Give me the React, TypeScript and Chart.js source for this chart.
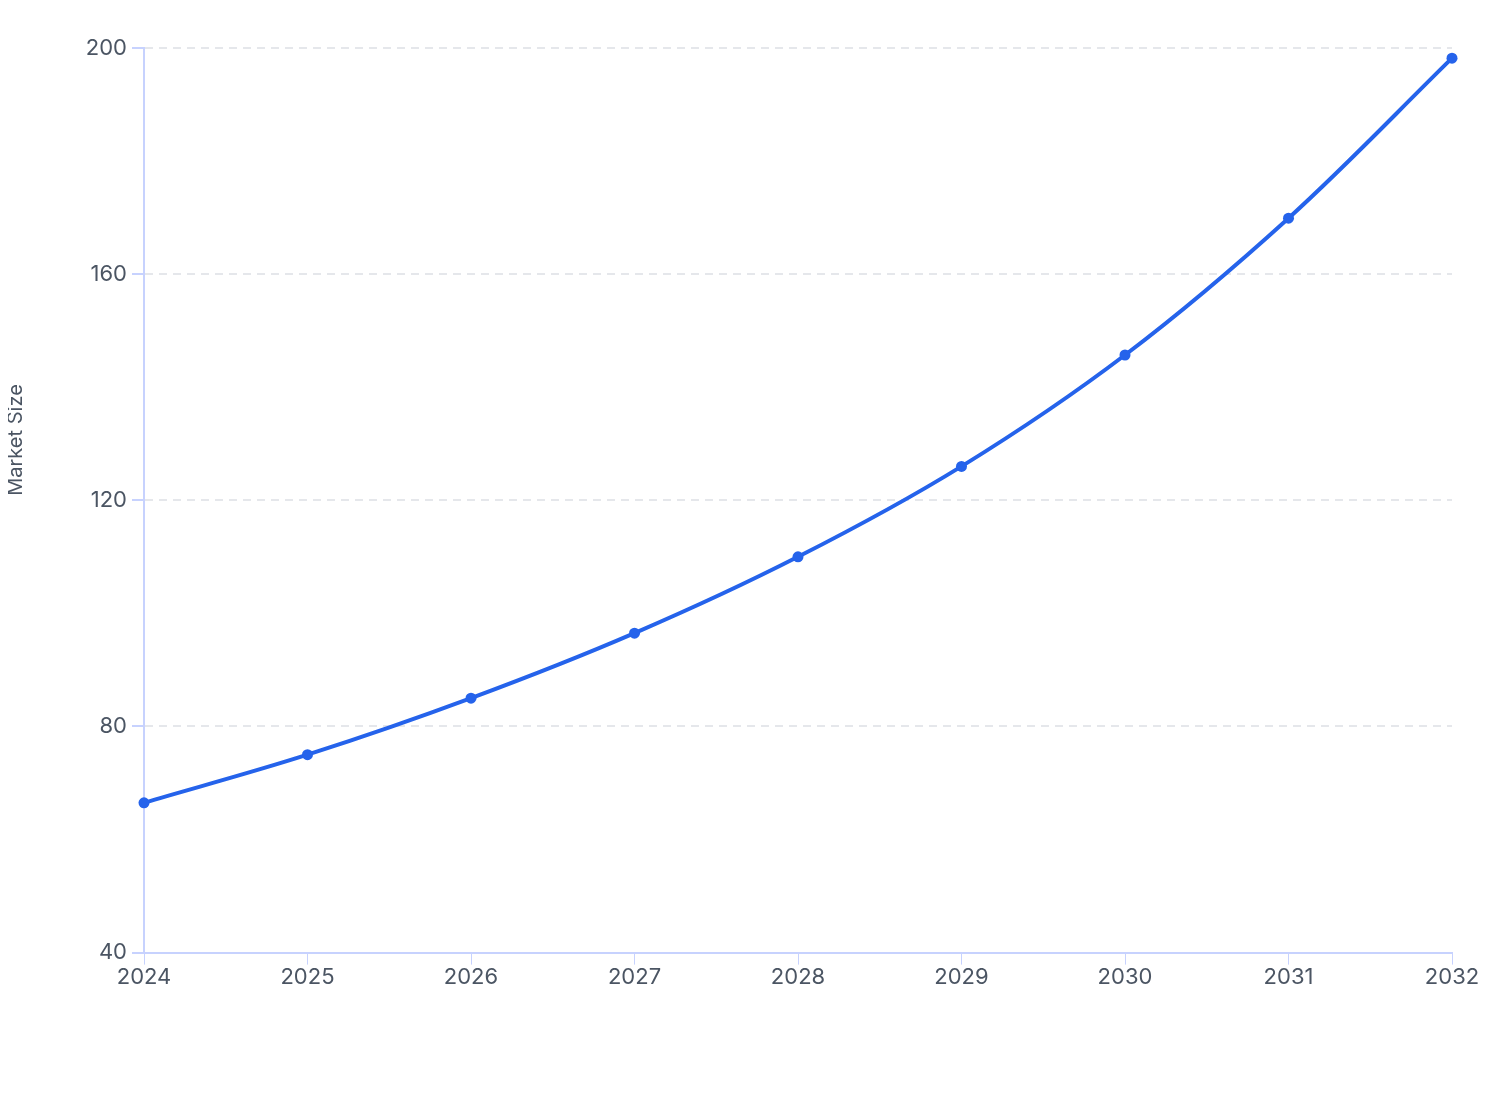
import { useEffect, useRef } from "react";
import { Chart, registerables } from "chart.js";

Chart.register(...registerables);

const years = ["2024", "2025", "2026", "2027", "2028", "2029", "2030", "2031", "2032"];
const marketSize = [66.5, 75.0, 85.0, 96.5, 110.0, 126.0, 145.7, 169.9, 198.2];
const yTicks = [40, 80, 120, 160, 200];
const yTitle = "Market Size";

const FONT = "Inter, 'Liberation Sans', sans-serif";

// axis title sits above the plot's middle in the source, so draw it ourselves
const yTitlePlugin = {
  id: "yTitle",
  afterDraw(chart: Chart) {
    const c = chart.ctx;
    c.save();
    c.translate(8, 432);
    c.rotate(-Math.PI / 2);
    c.textAlign = "center";
    c.textBaseline = "middle";
    c.fillStyle = "#4b5563";
    c.font = `20px ${FONT}`;
    c.fillText(yTitle, 0, 0);
    c.restore();
  },
};

const App = () => {
  const canvasRef = useRef<HTMLCanvasElement>(null);

  useEffect(() => {
    if (!canvasRef.current) return;
    const ctx = canvasRef.current.getContext("2d");

    const chart = new Chart(ctx!, {
      type: "line",
      data: {
        labels: years,
        datasets: [
          {
            label: yTitle,
            data: marketSize,
            borderColor: "#2563eb",
            backgroundColor: "#2563eb",
            borderWidth: 4,
            tension: 0.35,
            pointRadius: 5.5,
            pointHoverRadius: 6,
            pointBackgroundColor: "#2563eb",
            pointBorderWidth: 0,
          },
        ],
      },
      options: {
        animation: false,
        responsive: true,
        maintainAspectRatio: false,
        layout: { padding: { top: 40, right: 48, bottom: 117, left: 0 } },
        plugins: {
          legend: { display: false },
          tooltip: { enabled: false },
        },
        scales: {
          x: {
            offset: false,
            grid: {
              drawOnChartArea: false,
              tickLength: 12,
              tickColor: "#c7d2fe",
            },
            border: { color: "#c7d2fe", width: 2 },
            ticks: {
              color: "#4b5563",
              padding: 0,
              maxRotation: 0,
              font: { family: FONT, size: 22 },
            },
          },
          y: {
            min: 40,
            max: 200,
            afterBuildTicks: (axis) => {
              axis.ticks = yTicks.map((v) => ({ value: v }));
            },
            afterFit: (axis) => {
              axis.width = 136;
            },
            grid: {
              color: "#e5e7eb",
              lineWidth: 2,
              tickLength: 12,
              tickColor: "#c7d2fe",
            },
            border: { color: "#c7d2fe", width: 2, dash: [8, 6] },
            ticks: {
              color: "#4b5563",
              padding: 5,
              font: { family: FONT, size: 22 },
            },
          },
        },
      },
      plugins: [yTitlePlugin],
    });

    return () => {
      chart.destroy();
    };
  }, []);

  return (
    <div style={{ position: "relative", width: 1492, height: 1100, background: "#fff" }}>
      <canvas ref={canvasRef}></canvas>
    </div>
  );
};

export default App;
